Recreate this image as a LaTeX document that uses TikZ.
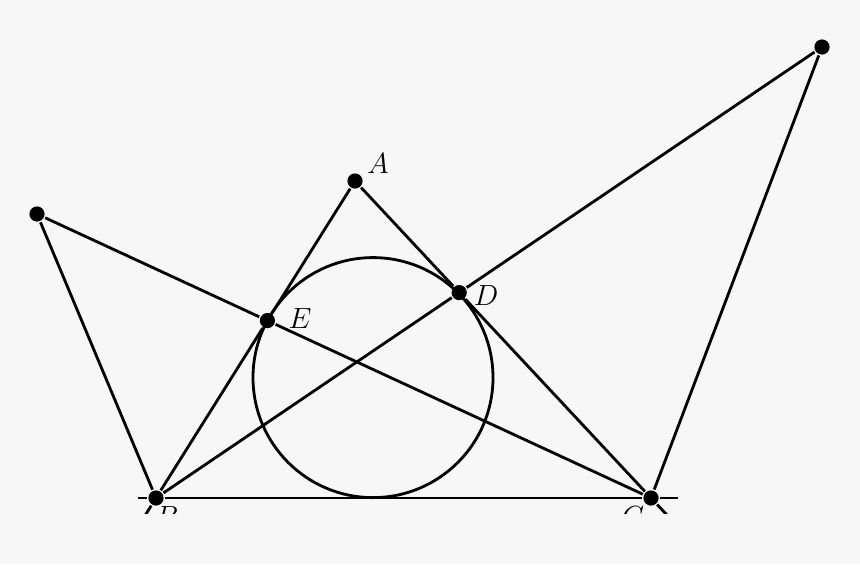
\documentclass[tikz,border=0pt]{standalone}
\usepackage{amsmath}
\usetikzlibrary{positioning}
\definecolor{bgray}{RGB}{247,247,247}
\tikzset{
  pt/.style={circle, fill=black, inner sep=0pt, minimum size=0.38cm},
  lbl/.style={inner sep=0pt, font=\fontsize{20}{24}\selectfont}
}

\begin{document}
\begin{tikzpicture}[line width=2pt]
                \fill[bgray] (0,0) rectangle (21.5,14.1);
                \clip (0,1.275) rectangle (21.5,14.1);

                \node[pt] (A) at (8.875, 9.575) {};
                \node[pt] (B) at (3.9, 1.65) {};
                \node[pt] (C) at (16.275, 1.65) {};
                \node[pt] (D) at (11.48, 6.785) {};
                \node[pt] (E) at (6.685, 6.085) {};
                \node[pt] (L) at (0.925, 8.75) {};
                \node[pt] (R) at (20.55, 12.925) {};
                \coordinate (Bx) at (3.4, 0.85);
                \coordinate (Cx) at (17.025, 0.85);
                \coordinate (bl) at (3.45, 1.65);
                \coordinate (br) at (16.95, 1.65);
                \coordinate (O) at (9.325, 4.66);

                \node[lbl] (lA) at (9.45, 10.0) {$A$};
                \node[lbl] (lB) at (4.175, 1.175) {$B$};
                \node[lbl] (lC) at (15.825, 1.175) {$C$};
                \node[lbl] (lD) at (12.15, 6.7) {$D$};
                \node[lbl] (lE) at (7.5, 6.14) {$E$};

                \draw (O) circle (3.0);
                \draw (bl) -- (B) -- (C) -- (br);
                \draw (A) -- (E) -- (B) -- (Bx);
                \draw (A) -- (D) -- (C) -- (Cx);
                \draw (L) -- (E) -- (C);
                \draw (R) -- (D) -- (B);
                \draw (L) -- (B);
                \draw (R) -- (C);
\end{tikzpicture}
\end{document}
